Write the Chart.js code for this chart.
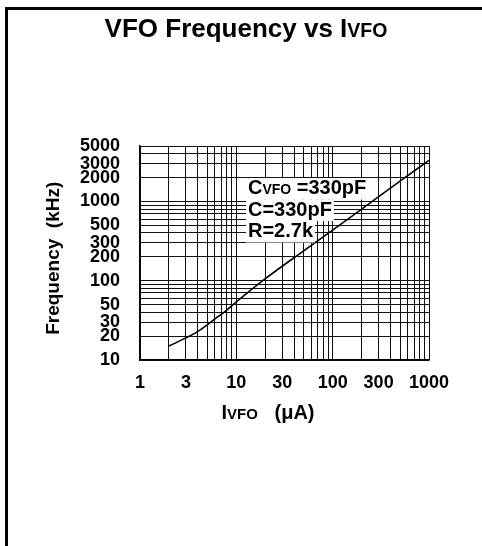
<!DOCTYPE html>
<html>
<head>
<meta charset="utf-8">
<script src="https://cdn.jsdelivr.net/npm/chart.js@4/dist/chart.umd.min.js"></script>
<style>
    html, body { margin: 0; padding: 0; background: #fff; }
    #wrap { position: relative; width: 482px; height: 546px; overflow: hidden; }
    #frame { position: absolute; left: 5px; top: 7px; right: -10px; bottom: -10px; border-top: 3px solid #000; border-left: 3px solid #000; }
    canvas { position: absolute; left: 0; top: 0; }
</style>
</head>
<body>
<div id="wrap">
    <div id="frame"></div>
    <canvas id="vfoChart" width="482" height="546"></canvas>
</div>
<script>
// Curve: I_VFO (uA) -> frequency (kHz)
const currentUa = [2, 3, 4, 6, 8, 10, 20, 50, 100, 200, 500, 1000];
const freqKhz = [15, 19, 23, 33, 43, 54, 106, 238, 435, 800, 1800, 3300];

// Log grid lines and the ones that carry a label
const xGridValues = [1, 2, 3, 4, 5, 6, 7, 8, 9, 10, 20, 30, 40, 50, 60, 70, 80, 90,
    100, 200, 300, 400, 500, 600, 700, 800, 900, 1000];
const xTickLabels = [1, 3, 10, 30, 100, 300, 1000];
const yGridValues = [10, 20, 30, 40, 50, 60, 70, 80, 90, 100, 200, 300, 400, 500, 600, 700, 800, 900,
    1000, 2000, 3000, 4000, 5000];
const yTickLabels = [10, 20, 30, 50, 100, 200, 300, 500, 1000, 2000, 3000, 5000];

const FONT = "'Liberation Sans', Arial, Helvetica, sans-serif";

// draw a row of text pieces with different sizes (small caps look)
function drawRuns(ctx, runs, x, baseline, align) {
    let total = 0;
    runs.forEach(r => {
        ctx.font = "bold " + r.size + "px " + FONT;
        r.w = ctx.measureText(r.text).width;
        total += r.w;
    });
    let cx = align === "center" ? x - total / 2 : x;
    runs.forEach(r => {
        ctx.font = "bold " + r.size + "px " + FONT;
        ctx.fillText(r.text, cx, baseline);
        cx += r.w;
    });
    return total;
}

const textPlugin = {
    id: "vfoText",
    afterDraw(chart) {
        const ctx = chart.ctx;
        const area = chart.chartArea;
        ctx.save();
        ctx.fillStyle = "#000";
        ctx.textBaseline = "alphabetic";
        ctx.textAlign = "left";

        // title
        drawRuns(ctx, [{ text: "VFO Frequency vs I", size: 26 }, { text: "VFO", size: 19.5 }], 246, 37, "center");

        // x axis title
        drawRuns(ctx, [{ text: "I", size: 20 }, { text: "VFO", size: 15 }, { text: "   (\u03bcA)", size: 20 }],
            268, 419, "center");

        // note box inside the plot
        const notes = [
            [{ text: "C", size: 20 }, { text: "VFO", size: 14 }, { text: " =330pF", size: 20 }],
            [{ text: "C=330pF", size: 20 }],
            [{ text: "R=2.7k", size: 20 }]
        ];
        const left = area.left + 108;
        let base = 194;
        notes.forEach(line => {
            let w = 0;
            line.forEach(r => {
                ctx.font = "bold " + r.size + "px " + FONT;
                w += ctx.measureText(r.text).width;
            });
            ctx.fillStyle = "#fff";
            ctx.fillRect(left - 2, base - 16, w + 4, 21.5);
            ctx.fillStyle = "#000";
            drawRuns(ctx, line, left, base, "left");
            base += 21.5;
        });
        ctx.restore();
    }
};

const chart = new Chart(document.getElementById("vfoChart"), {
    type: "line",
    data: {
        datasets: [{
            data: currentUa.map((x, i) => ({ x: x, y: freqKhz[i] })),
            borderColor: "#000",
            borderWidth: 1.6,
            pointRadius: 0,
            cubicInterpolationMode: "monotone",
            fill: false
        }]
    },
    options: {
        responsive: false,
        animation: false,
        layout: { padding: { left: 0, right: 53, top: 146, bottom: 146 } },
        plugins: {
            legend: { display: false },
            tooltip: { enabled: false },
            title: { display: false }
        },
        scales: {
            x: {
                type: "logarithmic",
                min: 1,
                max: 1000,
                afterBuildTicks: s => { s.ticks = xGridValues.map(v => ({ value: v })); },
                afterFit: s => { s.height = 40; },
                grid: { color: "#111", lineWidth: 1, drawTicks: false },
                border: { color: "#000", width: 1.5 },
                ticks: {
                    autoSkip: false,
                    maxRotation: 0,
                    padding: 12,
                    color: "#000",
                    font: { family: FONT, size: 18, weight: "bold" },
                    callback: v => xTickLabels.includes(v) ? String(v) : ""
                }
            },
            y: {
                type: "logarithmic",
                min: 10,
                max: 5000,
                afterBuildTicks: s => { s.ticks = yGridValues.map(v => ({ value: v })); },
                afterFit: s => { s.width = 140; },
                grid: { color: "#111", lineWidth: 1, drawTicks: false },
                border: { color: "#000", width: 1.5 },
                title: {
                    display: true,
                    text: "Frequency  (kHz)  ",
                    color: "#000",
                    font: { family: FONT, size: 19, weight: "bold" },
                    padding: { top: 42, bottom: 0 }
                },
                ticks: {
                    autoSkip: false,
                    padding: 20,
                    color: "#000",
                    font: { family: FONT, size: 18, weight: "bold" },
                    callback: v => yTickLabels.includes(v) ? String(v) : ""
                }
            }
        }
    },
    plugins: [textPlugin]
});
</script>
</body>
</html>
